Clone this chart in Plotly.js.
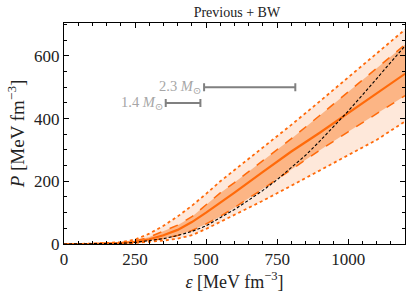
<!DOCTYPE html>
<html><head><meta charset="utf-8">
<script src="https://cdn.plot.ly/plotly-3.0.1.min.js"></script>
<style>html,body{margin:0;padding:0;background:#fff;}#plot{width:412px;height:299px;}</style>
</head><body><div id="plot"></div>
<script>
// energy density grid [MeV fm^-3]
const eps = [0, 100, 200, 250, 300, 350, 400, 450, 500, 550, 600, 700, 800, 900, 1000, 1100, 1200];
// outer band (dotted bounds)
const outerLow  = [0, 0.1, 1, 3, 6, 11, 17, 28, 48, 70, 92, 138, 186, 234, 282, 332, 391];
const outerHigh = [0, 1, 6, 14, 33, 58, 88, 122, 160, 200, 236, 307, 380, 455, 532, 608, 684];
// inner band (dashed bounds)
const innerLow  = [0, 0.2, 2, 5, 10, 18, 27, 43, 64, 88, 116, 176, 238, 299, 358, 415, 473];
const innerHigh = [0, 0.5, 4, 10, 22, 40, 60, 87, 124, 163, 196, 265, 336, 410, 485, 560, 636];
// median
const median    = [0, 0.3, 3, 7, 15, 28, 45, 70, 100, 131, 164, 230, 295, 355, 417, 480, 543];
// reference EOS (black dashed)
const refEps = [0, 100, 200, 250, 300, 350, 400, 450, 500, 550, 600, 650, 700, 750, 800, 850, 900, 950, 1000, 1050, 1100, 1150, 1200];
const refP   = [0, 0.2, 2, 5, 10, 17, 27, 40, 58, 83, 110, 140, 171, 205, 243, 283, 328, 375, 424, 475, 527, 580, 632];
// maximum central densities of neutron stars
const msLabels = ['1.4 <i>M</i><sub>⊙</sub>', '2.3 <i>M</i><sub>⊙</sub>'];
const msP  = [450, 500];
const msLo = [358, 493];
const msHi = [480, 814];

const orange = '#ff6a0a';
const traces = [
  {x: eps, y: outerLow, mode: 'lines', line: {color: orange, width: 1.8, dash: 'dot'}, hoverinfo: 'skip'},
  {x: eps, y: outerHigh, mode: 'lines', fill: 'tonexty', fillcolor: 'rgb(254,232,218)',
   line: {color: orange, width: 1.8, dash: 'dot'}, hoverinfo: 'skip'},
  {x: eps, y: innerLow, mode: 'lines', line: {color: orange, width: 1.5, dash: 'dash'}, hoverinfo: 'skip'},
  {x: eps, y: innerHigh, mode: 'lines', fill: 'tonexty', fillcolor: 'rgb(252,181,133)',
   line: {color: orange, width: 1.5, dash: 'dash'}, hoverinfo: 'skip'},
  {x: eps, y: median, mode: 'lines', line: {color: orange, width: 2.2}, hoverinfo: 'skip'},
  {x: refEps, y: refP, mode: 'lines', line: {color: '#000', width: 1.1, dash: '3px,2px'}, hoverinfo: 'skip'},
  {x: msLo, y: msP, mode: 'markers', marker: {size: 1, color: 'rgba(0,0,0,0)'},
   error_x: {type: 'data', symmetric: false, array: msHi.map((h, i) => h - msLo[i]),
             arrayminus: msLo.map(() => 0), color: '#808080', thickness: 2, width: 4},
   hoverinfo: 'skip'}
];

const serif = 'Liberation Serif, DejaVu Serif, serif';
const annotations = msLabels.map((t, i) => ({
  x: msLo[i], y: msP[i], xref: 'x', yref: 'y', text: t, showarrow: false,
  xanchor: 'right', yanchor: 'middle', xshift: -1,
  font: {family: serif, size: 14.5, color: '#a6a6a6'}
}));

const axisCommon = {
  showgrid: false, zeroline: false, showline: true, linecolor: '#000', linewidth: 1,
  mirror: 'allticks', ticks: 'inside', ticklen: 5, tickwidth: 1, tickcolor: '#000',
  tickfont: {family: serif, size: 17, color: '#222'},
};

const layout = {
  width: 412, height: 299,
  margin: {l: 64, r: 7, t: 23, b: 55},
  paper_bgcolor: '#fff', plot_bgcolor: '#fff',
  showlegend: false,
  title: {text: 'Previous + BW', font: {family: serif, size: 14, color: '#222'}, x: 0.575, xanchor: 'center', y: 0.96, yanchor: 'middle'},
  xaxis: Object.assign({}, axisCommon, {
    range: [0, 1200], tickvals: [0, 250, 500, 750, 1000],
    minor: {ticks: 'inside', dtick: 50, tick0: 0, ticklen: 3, tickcolor: '#000'},
    title: {text: '<i>ε</i> [MeV fm<sup>−3</sup>]', font: {family: serif, size: 18, color: '#222'}, standoff: 4}
  }),
  yaxis: Object.assign({}, axisCommon, {
    range: [0, 705], tickvals: [0, 200, 400, 600],
    minor: {ticks: 'inside', dtick: 50, tick0: 0, ticklen: 3, tickcolor: '#000'},
    title: {text: '<i>P</i> [MeV fm<sup>−3</sup>]', font: {family: serif, size: 19, color: '#222'}, standoff: 4}
  }),
  annotations: annotations
};

Plotly.newPlot('plot', traces, layout, {staticPlot: true, displayModeBar: false});
</script></body></html>
